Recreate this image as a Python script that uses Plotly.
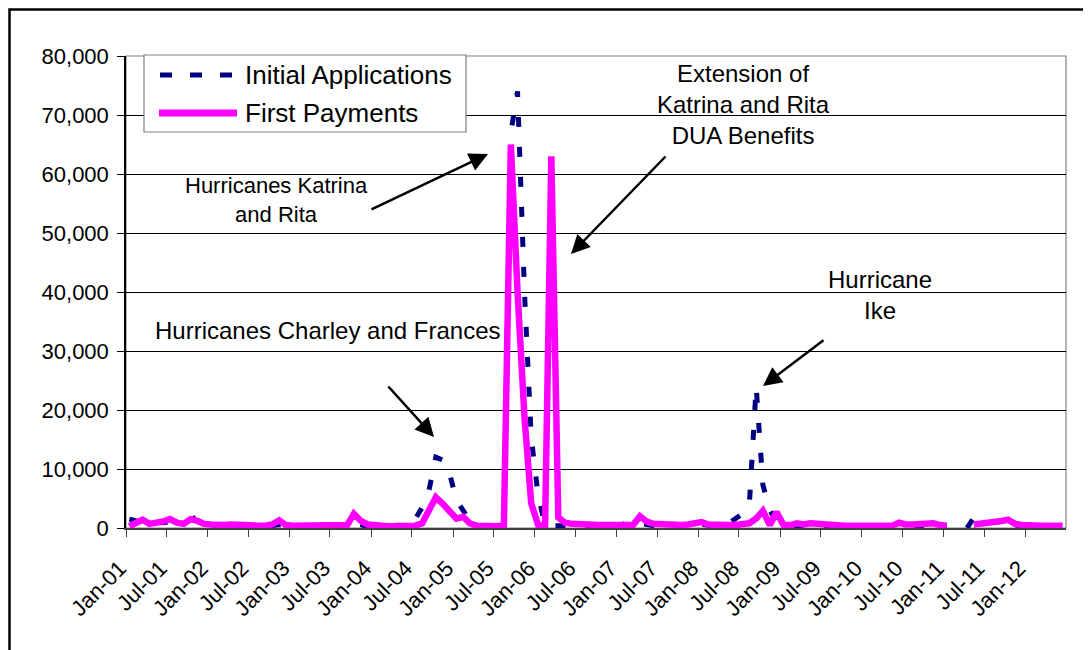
import pandas as pd
import plotly.graph_objects as go

# ---------------- data ----------------
month_starts = pd.date_range("2001-01-01", periods=138, freq="MS")
months = month_starts + pd.Timedelta(days=15)   # plotted mid-month

initial_applications = [
    1500, 1200, 900, 600, 1200, 900, 1000, 700, 900, 1300,
    2000, 800, 500, 400, 400, 400, 400, 400, 400, 900,
    400, 400, 600, 300, 300, 300, 300, 300, 300, 300,
    300, 300, 400, 800, 500, 300, 300, 300, 300, 300,
    300, 500, 1500, 3500, 6500, 12000, 11500, 9300, 4700, 2700,
    1300, 700, 400, 400, 700, 1000, 67000, 74000, 40000, 15500,
    5500, 500, 400, 400, 400, 400, 400, 400, 400, 400,
    400, 400, 400, 900, 500, 800, 500, 400, 400, 400,
    400, 400, 1000, 500, 600, 400, 400, 500, 800, 1600,
    2400, 3600, 24000, 7300, 3000, 1000, 500, 400, 400, 400,
    400, 400, 400, 300, 300, 300, 300, 300, 300, 300,
    300, 300, 300, 400, 300, 300, 300, 300, 400, 300,
    300, None, None, 0, 1700, 700, 800, 900, 1100, 1700,
    500, 300, 300, 300, 300, 300, 300, 300,
]

first_payments = [
    300, 900, 1400, 700, 800, 1100, 1500, 900, 700, 1500,
    1200, 700, 600, 500, 500, 600, 500, 400, 400, 400,
    400, 600, 1300, 500, 400, 400, 400, 400, 400, 400,
    400, 400, 500, 2400, 1200, 600, 400, 400, 300, 300,
    300, 300, 400, 800, 3000, 5200, 4100, 2900, 1600, 1900,
    800, 400, 300, 300, 300, 400, 65000, 40000, 18800, 4200,
    500, 400, 63000, 1800, 900, 700, 600, 500, 500, 500,
    500, 500, 500, 500, 500, 2000, 1100, 700, 600, 500,
    500, 500, 600, 700, 1000, 600, 500, 500, 500, 500,
    600, 800, 1600, 2900, 500, 2700, 500, 500, 800, 600,
    800, 700, 500, 400, 400, 400, 400, 400, 400, 400,
    400, 400, 400, 900, 600, 600, 600, 700, 800, 500,
    400, None, None, None, 600, 700, 800, 1000, 1200, 1400,
    700, 500, 400, 400, 400, 400, 400, 400,
]

tick_dates = pd.date_range("2001-01-01", "2012-01-01", freq="6MS")
tick_labels = ["Jan-01", "Jul-01", "Jan-02", "Jul-02", "Jan-03", "Jul-03",
               "Jan-04", "Jul-04", "Jan-05", "Jul-05", "Jan-06", "Jul-06",
               "Jan-07", "Jul-07", "Jan-08", "Jul-08", "Jan-09", "Jul-09",
               "Jan-10", "Jul-10", "Jan-11", "Jul-11", "Jan-12"]
y_ticks = [0, 10000, 20000, 30000, 40000, 50000, 60000, 70000, 80000]

series_names = ["Initial Applications", "First Payments"]

# ---------------- layout helpers (page pixel -> paper) ----------------
OFF = 8                      # default page body margin
W, H = 1091 - OFF, 650 - OFF
L, R, T, B = 126, 1066, 56, 528   # plot area in page pixels


def px(x):
    return (x - L) / (R - L)


def py(y):
    return (B - y) / (B - T)


FONT = "Liberation Sans, Arial, sans-serif"
NAVY = "#000080"
MAGENTA = "#FF00FF"

fig = go.Figure()
fig.add_trace(go.Scatter(
    x=months, y=initial_applications, mode="lines", name=series_names[0],
    line=dict(color=NAVY, width=5, dash="10px,20px"), showlegend=False,
    hoverinfo="skip"))
fig.add_trace(go.Scatter(
    x=months, y=first_payments, mode="lines", name=series_names[1],
    line=dict(color=MAGENTA, width=6.5), showlegend=False,
    hoverinfo="skip"))

shapes = []
# outer frame
shapes.append(dict(type="rect", xref="paper", yref="paper",
                   x0=px(9.5), x1=px(1088.5), y0=py(9.5), y1=py(690),
                   line=dict(color="black", width=2.5), layer="below"))
# plot area border
shapes.append(dict(type="rect", xref="paper", yref="paper",
                   x0=0, x1=1, y0=0, y1=1,
                   line=dict(color="#808080", width=1.2), layer="below"))
# legend box
shapes.append(dict(type="rect", xref="paper", yref="paper",
                   x0=px(144), x1=px(466), y0=py(55), y1=py(132),
                   line=dict(color="#808080", width=1.2), fillcolor="white",
                   layer="above"))
shapes.append(dict(type="line", xref="paper", yref="paper",
                   x0=px(160), x1=px(234), y0=py(75), y1=py(75),
                   line=dict(color=NAVY, width=5, dash="12px,18px"), layer="above"))
shapes.append(dict(type="line", xref="paper", yref="paper",
                   x0=px(159), x1=px(237), y0=py(113), y1=py(113),
                   line=dict(color=MAGENTA, width=7), layer="above"))

ANN = 24
annotations = [
    dict(text=series_names[0], x=px(243), y=py(75), xanchor="left", yanchor="middle",
         font=dict(size=26)),
    dict(text=series_names[1], x=px(243), y=py(113), xanchor="left", yanchor="middle",
         font=dict(size=26)),
    dict(text="Hurricanes Katrina<br>and Rita", x=px(276), y=py(200),
         xanchor="center", yanchor="middle", align="center", font=dict(size=22)),
    dict(text="Extension of<br>Katrina and Rita<br>DUA Benefits", x=px(743), y=py(105),
         xanchor="center", yanchor="middle", align="center", font=dict(size=ANN)),
    dict(text="Hurricanes Charley and Frances", x=px(327), y=py(330),
         xanchor="center", yanchor="middle", font=dict(size=ANN)),
    dict(text="Hurricane<br>Ike", x=px(880), y=py(295),
         xanchor="center", yanchor="middle", align="center", font=dict(size=ANN)),
]

arrows = [((370, 210), (488, 154)),
          ((667, 155), (571, 254)),
          ((387, 385), (434, 437)),
          ((825, 339), (763, 386))]
for (tx, ty), (hx, hy) in arrows:
    annotations.append(dict(text="", x=px(hx), y=py(hy), xref="paper", yref="paper",
                            ax=tx - hx, ay=ty - hy, showarrow=True,
                            arrowhead=2, arrowsize=1.5, arrowwidth=2.5,
                            arrowcolor="black", standoff=0))
for a in annotations:
    a.setdefault("xref", "paper")
    a.setdefault("yref", "paper")
    a.setdefault("showarrow", False)

fig.update_layout(
    width=W, height=H, autosize=False,
    margin=dict(l=L - OFF, r=W - (R - OFF), t=T - OFF, b=H - (B - OFF), pad=0),
    paper_bgcolor="white", plot_bgcolor="white",
    font=dict(family=FONT, color="black", size=21),
    shapes=shapes, annotations=annotations,
    xaxis=dict(range=["2001-01-01", "2012-07-01"], type="date",
               tickvals=tick_dates, ticktext=tick_labels, tickangle=-45,
               ticks="outside", ticklen=7, tickcolor="#404040", tickwidth=1.2,
               showline=True, linecolor="#404040", linewidth=1.5,
               showgrid=False, zeroline=False, tickfont=dict(size=22),
               ticklabelstandoff=10, ticklabelshift=-6),
    yaxis=dict(range=[0, 80000], tickvals=y_ticks, tickformat=",d",
               ticks="outside", ticklen=7, tickcolor="black", tickwidth=1.2,
               showline=True, linecolor="black", linewidth=1.5,
               showgrid=True, gridcolor="black", gridwidth=1,
               zeroline=False, tickfont=dict(size=22), ticklabelstandoff=4),
)

fig.write_html("out.html")
